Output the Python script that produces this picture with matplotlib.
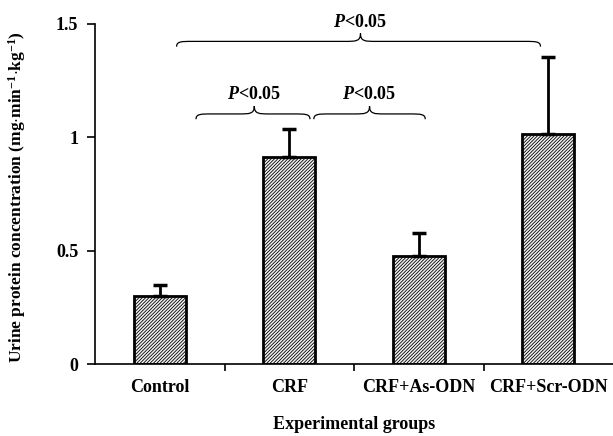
import matplotlib

matplotlib.use("Agg")
import matplotlib.pyplot as plt
import numpy as np
from matplotlib.path import Path
from matplotlib.patches import PathPatch

groups = ["Control", "CRF", "CRF+As-ODN", "CRF+Scr-ODN"]
means = [0.30, 0.915, 0.477, 1.015]
errors = [0.05, 0.12, 0.10, 0.34]
# (left, right, tip x, base y) of each significance brace, category units
braces = [(0.13, 2.94, 1.55, 1.40), (0.28, 1.16, 0.73, 1.08), (1.19, 2.05, 1.62, 1.08)]
brace_label = "$\\mathit{P}$<0.05"

plt.rcParams["font.family"] = ["Liberation Serif", "DejaVu Serif"]
plt.rcParams["font.weight"] = "bold"
plt.rcParams["hatch.linewidth"] = 0.6
plt.rcParams["hatch.color"] = "#444444"
plt.rcParams["mathtext.fontset"] = "custom"
plt.rcParams["mathtext.it"] = "Liberation Serif:italic:bold"
plt.rcParams["mathtext.rm"] = "Liberation Serif:bold"


def brace(ax, x0, x1, xm, y, h=0.058):
    ym = y + h * 0.4
    yt = y + h
    d = 0.12
    verts = [(x0, y), (x0, ym), (x0 + d * 0.3, ym), (x0 + d, ym),
             (xm - d, ym),
             (xm - d * 0.3, ym), (xm, ym), (xm, yt),
             (xm, ym), (xm + d * 0.3, ym), (xm + d, ym),
             (x1 - d, ym),
             (x1 - d * 0.3, ym), (x1, ym), (x1, y)]
    codes = [Path.MOVETO, Path.CURVE4, Path.CURVE4, Path.CURVE4,
             Path.LINETO,
             Path.CURVE4, Path.CURVE4, Path.CURVE4,
             Path.CURVE4, Path.CURVE4, Path.CURVE4,
             Path.LINETO,
             Path.CURVE4, Path.CURVE4, Path.CURVE4]
    ax.add_patch(PathPatch(Path(verts, codes), fill=False, lw=0.9,
                           edgecolor="black", clip_on=False))
    ax.text(xm, yt + 0.012, brace_label, ha="center", va="bottom",
            fontsize=13, fontweight="bold", clip_on=False)


fig = plt.figure(figsize=(6.13, 4.36), dpi=100)
ax = fig.add_axes([0.155, 0.165, 0.845, 0.78])
x = np.arange(len(groups))
ax.bar(x, means, width=0.4, facecolor="#f2f2f2", edgecolor="black", lw=2,
       hatch="//////////")
ax.errorbar(x, means, yerr=[np.zeros(len(errors)), errors], fmt="none",
            ecolor="black", elinewidth=2, capsize=5, capthick=2.5)

for b in braces:
    brace(ax, *b)

ax.set_xlim(-0.5, len(groups) - 0.5)
ax.set_ylim(0, 1.5)
ax.set_yticks([0, 0.5, 1, 1.5])
ax.set_yticklabels(["0", "0.5", "1", "1.5"], fontsize=13, fontweight="bold")
ax.set_xticks(x)
ax.set_xticklabels(groups, fontsize=13, fontweight="bold")
ax.tick_params(axis="x", length=0, pad=11)
ax.set_xticks(np.arange(0.5, len(groups) - 0.5), minor=True)
ax.tick_params(axis="x", which="minor", length=5, width=1.2, direction="out")
ax.tick_params(axis="y", length=6, width=1.2, direction="out", pad=6)
for s in ("top", "right"):
    ax.spines[s].set_visible(False)
for s in ("left", "bottom"):
    ax.spines[s].set_linewidth(1.2)

fig.text(0.578, 0.027, "Experimental groups", ha="center", va="center",
         fontsize=13, fontweight="bold")
ax.set_ylabel("Urine protein concentration (mg$\\cdot$min$^{-1}$$\\cdot$kg$^{-1}$)",
              fontsize=12.5, fontweight="bold")
ax.yaxis.set_label_coords(-0.13, 0.49)

fig.savefig("out.png", dpi=100, facecolor="white")
